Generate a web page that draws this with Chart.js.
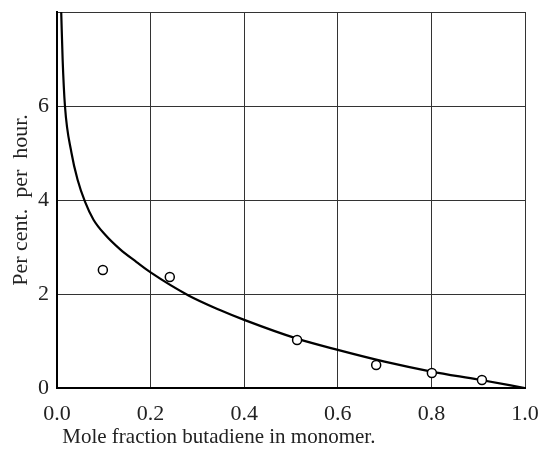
<!DOCTYPE html>
<html>
<head>
<meta charset="utf-8">
<script src="https://cdn.jsdelivr.net/npm/chart.js@4"></script>
<style>
  html, body { margin: 0; padding: 0; background: #fff; }
  #wrap { width: 546px; height: 450px; }
</style>
</head>
<body>
<div id="wrap"><canvas id="rateChart"></canvas></div>
<script>
// Fitted curve
const curveX = [0.009, 0.012, 0.017, 0.031, 0.044, 0.060, 0.078, 0.103, 0.135, 0.170, 0.200, 0.281, 0.348, 0.4, 0.513, 0.6, 0.7, 0.8, 0.9, 1.0];
const curveY = [8.0, 7.0, 6.0, 5.0, 4.43, 3.96, 3.58, 3.26, 2.95, 2.68, 2.46, 1.97, 1.66, 1.45, 1.05, 0.81, 0.56, 0.35, 0.18, 0.0];

// Measured points (open circles)
const pointX = [0.098, 0.241, 0.513, 0.682, 0.801, 0.908];
const pointY = [2.51, 2.36, 1.02, 0.49, 0.32, 0.17];

const xTicks = [0, 0.2, 0.4, 0.6, 0.8, 1.0];
const yTicks = [0, 2, 4, 6];

const serif = '"Liberation Serif", "DejaVu Serif", serif';
const ctx = document.getElementById('rateChart').getContext('2d');

new Chart(ctx, {
    type: 'scatter',
    data: {
        datasets: [
            {
                label: 'measured',
                data: pointX.map((x, i) => ({ x: x, y: pointY[i] })),
                pointRadius: 4.5,
                pointBorderWidth: 1.5,
                pointBorderColor: '#000',
                pointBackgroundColor: '#fff'
            },
            {
                label: 'curve',
                data: curveX.map((x, i) => ({ x: x, y: curveY[i] })),
                showLine: true,
                cubicInterpolationMode: 'monotone',
                borderColor: '#000',
                borderWidth: 2.2,
                pointRadius: 0
            }
        ]
    },
    options: {
        responsive: true,
        maintainAspectRatio: false,
        animation: false,
        layout: { padding: 0 },
        plugins: {
            legend: { display: false },
            tooltip: { enabled: false }
        },
        scales: {
            x: {
                type: 'linear',
                min: 0,
                max: 1,
                afterFit: (scale) => {
                    scale.height = 62;
                    scale.paddingLeft = 0;
                    scale.paddingRight = 21;
                },
                afterBuildTicks: (scale) => { scale.ticks = xTicks.map(v => ({ value: v })); },
                ticks: {
                    padding: 13,
                    color: '#222',
                    font: { family: serif, size: 22 },
                    callback: (v) => v.toFixed(1)
                },
                grid: { color: '#333', lineWidth: 1, drawTicks: false },
                border: { color: '#000', width: 2 },
                title: {
                    display: true,
                    align: 'start',
                    text: ' Mole fraction butadiene in monomer.',
                    color: '#222',
                    font: { family: serif, size: 21 },
                    padding: { top: 0, bottom: 0 }
                }
            },
            y: {
                type: 'linear',
                min: 0,
                max: 8,
                afterFit: (scale) => {
                    scale.width = 57;
                    scale.paddingTop = 12;
                    scale.paddingBottom = 0;
                },
                afterBuildTicks: (scale) => { scale.ticks = yTicks.concat([8]).map(v => ({ value: v })); },
                ticks: {
                    padding: 8,
                    color: '#222',
                    font: { family: serif, size: 22 },
                    callback: (v) => yTicks.includes(v) ? String(v) : ''
                },
                grid: { color: '#333', lineWidth: 1, drawTicks: false },
                border: { color: '#000', width: 2 },
                title: {
                    display: true,
                    text: 'Per cent.  per  hour.',
                    color: '#222',
                    font: { family: serif, size: 22 },
                    padding: { top: 8, bottom: 0 }
                }
            }
        }
    }
});
</script>
</body>
</html>
